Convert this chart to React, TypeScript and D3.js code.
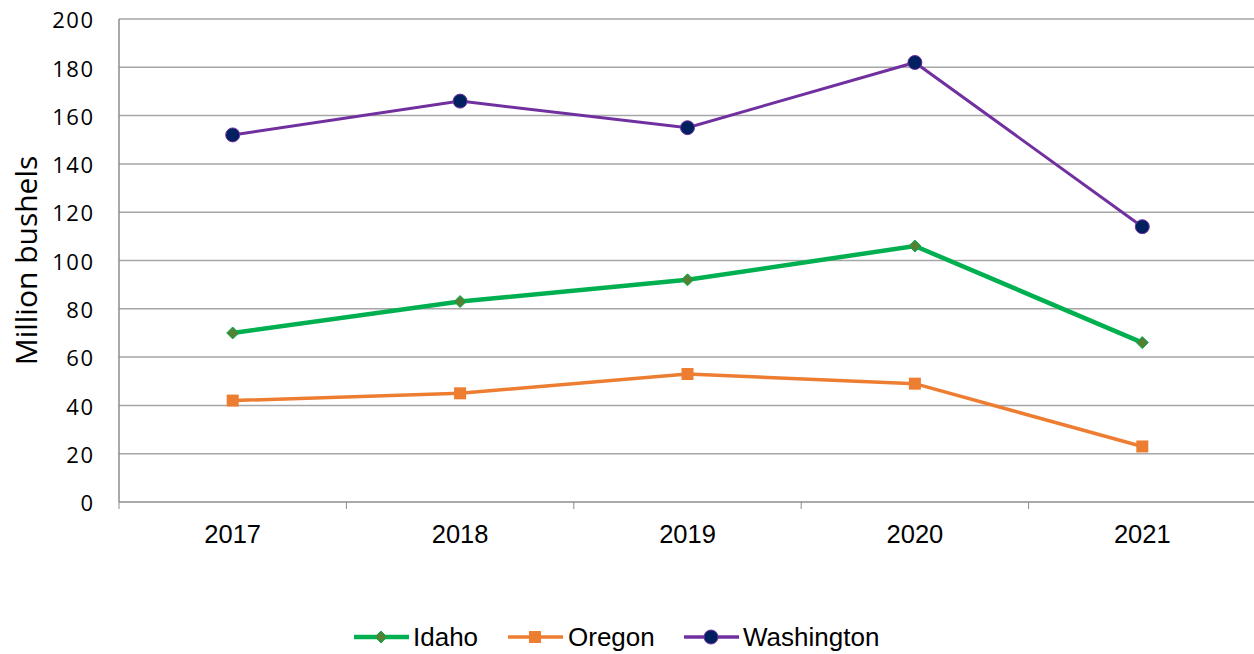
import React from "react";
import * as d3 from "d3";

const years = ["2017", "2018", "2019", "2020", "2021"];
const idaho = [70, 83, 92, 106, 66];
const oregon = [42, 45, 53, 49, 23];
const washington = [152, 166, 155, 182, 114];
const yTicks = [0, 20, 40, 60, 80, 100, 120, 140, 160, 180, 200];

const W = 1254, H = 654;
const left = 119, right = 1256, top = 19, bottom = 502;

export default function App() {
  const x = d3.scaleBand<string>().domain(years).range([left, right]).padding(0);
  const y = d3.scaleLinear().domain([0, 200]).range([bottom, top]);
  const cx = (yr: string) => (x(yr) as number) + x.bandwidth() / 2;
  const line = d3.line<number>().x((_, i) => cx(years[i])).y((d) => y(d));
  const arial = "Liberation Sans, Arial, sans-serif";
  const calib = "Open Sans, Noto Sans, sans-serif";

  const diamond = (px: number, py: number, r: number) =>
    `M${px},${py - r}L${px + r},${py}L${px},${py + r}L${px - r},${py}Z`;

  const legend = [
    { name: "Idaho", color: "#00B050", x0: 354, tx: 413, kind: "d" },
    { name: "Oregon", color: "#ED7D31", x0: 508, tx: 568, kind: "s" },
    { name: "Washington", color: "#7030A0", x0: 684, tx: 743, kind: "c" },
  ];

  const marker = (kind: string, px: number, py: number, key: any) => {
    if (kind === "d")
      return <path key={key} d={diamond(px, py, 6)} fill="#548235" stroke="#00B050" strokeWidth={1} />;
    if (kind === "s")
      return <rect key={key} x={px - 6} y={py - 6} width={12} height={12} fill="#ED7D31" />;
    return <circle key={key} cx={px} cy={py} r={7} fill="#002060" stroke="#7030A0" strokeWidth={1} />;
  };

  return (
    <svg width={W} height={H} style={{ position: "absolute", left: 0, top: 0, background: "#fff" }}>
      {yTicks.map((t) => (
        <g key={t}>
          {t > 0 && <line x1={left} x2={W} y1={y(t)} y2={y(t)} stroke="#A6A6A6" strokeWidth={1.5} />}
          <text
            x={94.5}
            y={y(t) + 1.5}
            dy="0.35em"
            textAnchor="end"
            fontFamily={calib}
            fontSize={22}
            letterSpacing={1.5}
            fill="#000"
          >
            {t}
          </text>
        </g>
      ))}
      <line x1={left} x2={left} y1={top} y2={bottom} stroke="#8C8C8C" strokeWidth={1.5} />
      <line x1={left} x2={W} y1={bottom} y2={bottom} stroke="#8C8C8C" strokeWidth={1.5} />
      {years.map((yr) => (
        <line key={"t" + yr} x1={x(yr) as number} x2={x(yr) as number} y1={bottom} y2={bottom + 7} stroke="#8C8C8C" strokeWidth={1} />
      ))}
      <line x1={right - 1.5} x2={right - 1.5} y1={bottom} y2={bottom + 7} stroke="#8C8C8C" strokeWidth={1} />
      {years.map((yr) => (
        <text key={yr} x={cx(yr)} y={543} textAnchor="middle" fontFamily={arial} fontSize={25.5} fill="#000">
          {yr}
        </text>
      ))}
      <text
        transform={`translate(37,${(top + bottom) / 2}) rotate(-90)`}
        textAnchor="middle"
        fontFamily={calib}
        fontSize={30}
        fill="#000"
      >
        Million bushels
      </text>

      <path d={line(oregon) as string} fill="none" stroke="#ED7D31" strokeWidth={3.5} />
      <path d={line(idaho) as string} fill="none" stroke="#00B050" strokeWidth={4.5} />
      <path d={line(washington) as string} fill="none" stroke="#7030A0" strokeWidth={3} />
      {oregon.map((v, i) => marker("s", cx(years[i]), y(v), "o" + i))}
      {idaho.map((v, i) => marker("d", cx(years[i]), y(v), "i" + i))}
      {washington.map((v, i) => marker("c", cx(years[i]), y(v), "w" + i))}

      {legend.map((l) => (
        <g key={l.name}>
          <line x1={l.x0} x2={l.x0 + 55} y1={637} y2={637} stroke={l.color} strokeWidth={l.kind === "d" ? 4.5 : 3.5} />
          {marker(l.kind, l.x0 + 27, 637, "lm")}
          <text x={l.tx} y={646} fontFamily={arial} fontSize={26} fill="#000">
            {l.name}
          </text>
        </g>
      ))}
    </svg>
  );
}
